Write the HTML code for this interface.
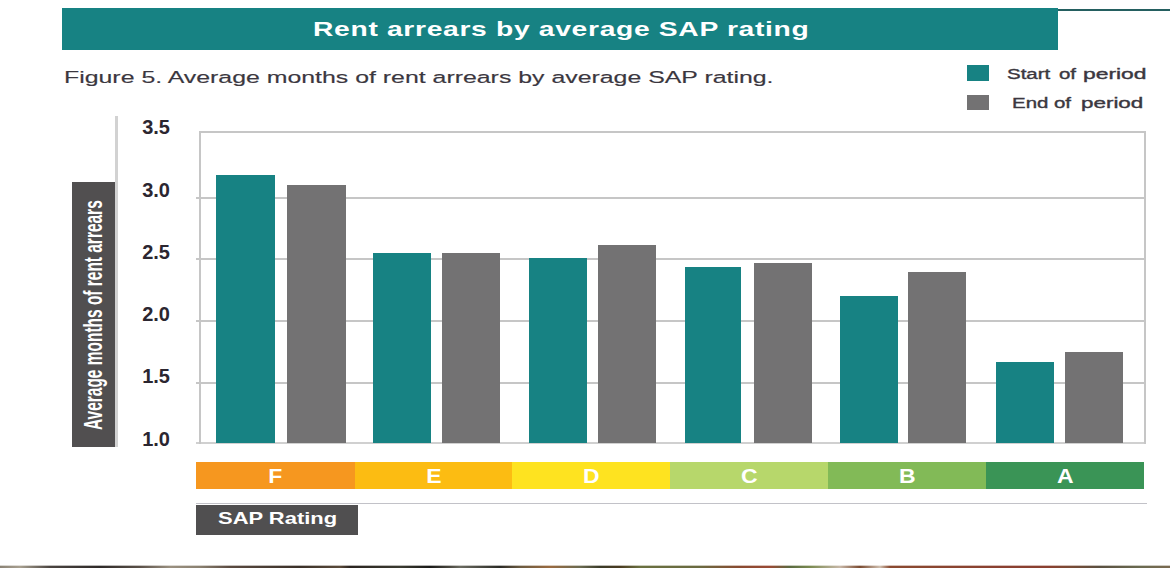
<!DOCTYPE html>
<html><head><meta charset="utf-8">
<style>
html,body{margin:0;padding:0;background:#fff;}
body{width:1170px;height:568px;position:relative;overflow:hidden;font-family:"Liberation Sans",sans-serif;}
.a{position:absolute;}
.hdr{left:62px;top:8px;width:996px;height:42px;background:#178283;}
.hline{left:1058px;top:9px;width:112px;height:2px;background:#245f60;}
.title{left:313px;top:16px;color:#fff;font-weight:bold;font-size:21px;white-space:nowrap;line-height:26px;letter-spacing:0.5px;transform-origin:0 0;transform:scaleX(1.345);}
.cap{-webkit-text-stroke:0.15px #3b3740;left:64px;top:66.5px;color:#3b3740;font-size:16.7px;white-space:nowrap;line-height:22px;transform-origin:0 0;transform:scaleX(1.49);}
.sw{width:22px;}
.lg{color:#3b3740;-webkit-text-stroke:0.35px #3b3740;font-size:14px;white-space:nowrap;line-height:18px;transform-origin:0 0;transform:scaleX(1.62);}
.yl{width:3px;left:115px;top:116px;height:331px;background:#d2d2d2;}
.ybox{left:72px;top:182px;width:43px;height:265px;background:#514f50;}
.ytitle{color:#fff;font-weight:bold;font-size:25px;white-space:nowrap;transform-origin:0 0;}
.num{color:#2b2630;font-weight:bold;font-size:20px;line-height:20px;right:1000px;text-align:right;letter-spacing:0px;}
.g{left:196px;width:950px;height:2px;background:#c6c6c6;}
.bt{background:#178283;}
.bg{background:#737273;}
.seg{top:462px;height:27px;color:#fff;font-weight:bold;font-size:20.5px;line-height:27px;text-align:center;}
.sl{display:inline-block;transform:scaleX(1.12);}
.sap{left:217.5px;top:508px;color:#fff;font-weight:bold;font-size:16.5px;line-height:20px;white-space:nowrap;transform-origin:0 0;transform:scaleX(1.33);}
</style></head><body>
<div class="a hdr"></div>
<div class="a hline"></div>
<div class="a title">Rent arrears by average SAP rating</div>
<div class="a cap">Figure 5. Average months of rent arrears by average SAP rating.</div>
<div class="a sw" style="left:967px;top:65px;height:16px;background:#178283"></div>
<div class="a sw" style="left:967px;top:95px;height:15px;background:#737273"></div>
<div class="a lg" style="left:1007px;top:64.5px;transform:scaleX(1.46)">Start</div><div class="a lg" style="left:1058.5px;top:64.5px;transform:scaleX(1.46)">of</div><div class="a lg" style="left:1082.5px;top:64.5px;transform:scaleX(1.63)">period</div>
<div class="a lg" style="left:1011.5px;top:93.5px;transform:scaleX(1.46)">End</div><div class="a lg" style="left:1054px;top:93.5px;transform:scaleX(1.46)">of</div><div class="a lg" style="left:1081px;top:93.5px;transform:scaleX(1.6)">period</div>

<div class="a yl"></div>
<div class="a ybox"></div>
<div class="a ytitle" style="left:78.5px;top:430px;transform:rotate(-90deg) scaleX(0.6185)">Average months of rent arrears</div>

<div class="a num" style="top:117px">3.5</div>
<div class="a num" style="top:180px">3.0</div>
<div class="a num" style="top:242px">2.5</div>
<div class="a num" style="top:304px">2.0</div>
<div class="a num" style="top:366px">1.5</div>
<div class="a num" style="top:429px">1.0</div>

<!-- plot frame -->
<div class="a g" style="top:131px;left:199px;width:947px"></div>
<div class="a g" style="top:197px"></div>
<div class="a g" style="top:258px"></div>
<div class="a g" style="top:320px"></div>
<div class="a g" style="top:382px"></div>
<div class="a g" style="top:442px;background:#d0d0d0"></div>
<div class="a" style="left:199px;top:131px;width:2px;height:313px;background:#c6c6c6"></div>
<div class="a" style="left:1144px;top:131px;width:2px;height:313px;background:#c6c6c6"></div>

<!-- bars -->
<div class="a bt" style="left:216px;top:175px;width:59px;height:268px"></div>
<div class="a bg" style="left:287px;top:185px;width:59px;height:258px"></div>
<div class="a bt" style="left:373px;top:253px;width:58px;height:190px"></div>
<div class="a bg" style="left:442px;top:253px;width:58px;height:190px"></div>
<div class="a bt" style="left:529px;top:258px;width:58px;height:185px"></div>
<div class="a bg" style="left:598px;top:245px;width:58px;height:198px"></div>
<div class="a bt" style="left:685px;top:267px;width:56px;height:176px"></div>
<div class="a bg" style="left:754px;top:263px;width:58px;height:180px"></div>
<div class="a bt" style="left:840px;top:296px;width:58px;height:147px"></div>
<div class="a bg" style="left:908px;top:272px;width:58px;height:171px"></div>
<div class="a bt" style="left:996px;top:362px;width:58px;height:81px"></div>
<div class="a bg" style="left:1065px;top:352px;width:58px;height:91px"></div>

<!-- SAP strip -->
<div class="a seg" style="left:196px;width:159px;background:#f6971f"><span class="sl">F</span></div>
<div class="a seg" style="left:355px;width:157px;background:#fcbc12"><span class="sl">E</span></div>
<div class="a seg" style="left:512px;width:158px;background:#fee320"><span class="sl">D</span></div>
<div class="a seg" style="left:670px;width:158px;background:#b7d76b"><span class="sl">C</span></div>
<div class="a seg" style="left:828px;width:158px;background:#82ba57"><span class="sl">B</span></div>
<div class="a seg" style="left:986px;width:158px;background:#3a9456"><span class="sl">A</span></div>

<div class="a" style="left:196px;top:503px;width:951px;height:1px;background:#c2c2c8"></div>
<div class="a" style="left:196px;top:505px;width:162px;height:30px;background:#504f50"></div>
<div class="a sap">SAP Rating</div>

<div class="a" style="left:0;top:565px;width:1170px;height:1px;opacity:0.35;background:linear-gradient(90deg,#8a8275 0px,#a8a090 20px,#4a4440 50px,#2e2a28 100px,#5a5048 140px,#9a9080 170px,#8a8070 200px,#5a4a40 230px,#3a3028 300px,#5a4a3a 340px,#2a2420 350px,#3a3a30 400px,#1a1a18 430px,#4a4840 450px,#6a6a60 460px,#2a2a25 500px,#6a5a40 520px,#9a6a40 550px,#6a6a50 580px,#3a3a28 600px,#4a3a20 620px,#6a7040 640px,#6a6a40 700px,#8a4a30 740px,#9a4a35 770px,#5a6a40 790px,#7a8a50 810px,#c8b8a8 840px,#7a4a30 860px,#d0c0b0 880px,#8a4a30 890px,#8a4030 1000px,#8a4030 1050px,#7a4a35 1070px,#5a5040 1100px,#6a6a50 1140px,#7a6a50 1170px)"></div>
<div class="a" style="left:0;top:566px;width:1170px;height:2px;background:linear-gradient(90deg,#8a8275 0px,#a8a090 20px,#4a4440 50px,#2e2a28 100px,#5a5048 140px,#9a9080 170px,#8a8070 200px,#5a4a40 230px,#3a3028 300px,#5a4a3a 340px,#2a2420 350px,#3a3a30 400px,#1a1a18 430px,#4a4840 450px,#6a6a60 460px,#2a2a25 500px,#6a5a40 520px,#9a6a40 550px,#6a6a50 580px,#3a3a28 600px,#4a3a20 620px,#6a7040 640px,#6a6a40 700px,#8a4a30 740px,#9a4a35 770px,#5a6a40 790px,#7a8a50 810px,#c8b8a8 840px,#7a4a30 860px,#d0c0b0 880px,#8a4a30 890px,#8a4030 1000px,#8a4030 1050px,#7a4a35 1070px,#5a5040 1100px,#6a6a50 1140px,#7a6a50 1170px)"></div>
</body></html>
